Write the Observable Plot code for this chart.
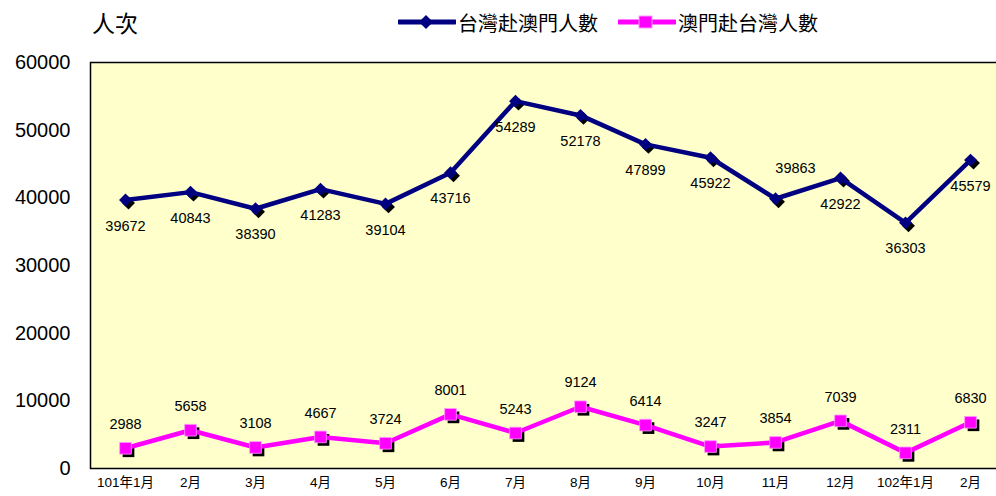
<!DOCTYPE html>
<html>
<head>
<meta charset="utf-8">
<script src="https://cdn.jsdelivr.net/npm/d3@7"></script>
<script src="https://cdn.jsdelivr.net/npm/@observablehq/plot@0.6"></script>
<style>
  html, body { margin: 0; padding: 0; background: #fff; overflow: hidden; }
  #wrap { width: 996px; height: 496px; position: relative; }
  #header { position: relative; height: 50px; font-family: "Noto Sans CJK TC", "Noto Sans CJK SC", sans-serif; }
  #title { position: absolute; left: 92px; top: 7px; font-size: 23px; line-height: 30px; color: #000; }
  .leg { position: absolute; top: 7px; height: 30px; display: flex; align-items: center; font-size: 20px; color: #000; }
  .leg svg { margin-right: 2px; }
  #chart svg { display: block; }
</style>
</head>
<body>
<div id="wrap">
  <div id="header">
    <div id="title">人次</div>
  </div>
  <div id="chart"></div>
</div>
<script>
const months = ["101年1月","2月","3月","4月","5月","6月","7月","8月","9月","10月","11月","12月","102年1月","2月"];
const seriesNames = ["台灣赴澳門人數","澳門赴台灣人數"];
const twToMacau = [39672,40843,38390,41283,39104,43716,54289,52178,47899,45922,39863,42922,36303,45579];
const macauToTw = [2988,5658,3108,4667,3724,8001,5243,9124,6414,3247,3854,7039,2311,6830];
const yTicks = [0,10000,20000,30000,40000,50000,60000];
const colors = ["#000080","#FF00FF"];

const tw = twToMacau.map((v,i)=>({i, value:v}));
const mo = macauToTw.map((v,i)=>({i, value:v}));

// legend
const header = document.getElementById("header");
const legendX = [398, 618];
seriesNames.forEach((name, k) => {
  const d = document.createElement("div");
  d.className = "leg";
  d.style.left = legendX[k] + "px";
  const sym = k === 0
    ? `<polygon points="28,1 35,8 28,15 21,8" fill="${colors[0]}"/>`
    : `<rect x="21" y="2" width="13" height="12" fill="${colors[1]}" stroke="#ff99ff" stroke-width="1"/>`;
  d.innerHTML = `<svg width="58" height="16"><line x1="1" y1="8" x2="57" y2="8" stroke="${colors[k]}" stroke-width="5" stroke-linecap="round"/>${sym}</svg><span>${name}</span>`;
  header.appendChild(d);
});

const numFont = '"Liberation Sans", Arial, sans-serif';

const chart = Plot.plot({
  width: 996,
  height: 446,
  marginTop: 12,
  marginBottom: 28,
  marginLeft: 90,
  marginRight: -8,
  style: { fontFamily: '"Liberation Sans", Arial, sans-serif', background: "transparent", overflow: "visible" },
  x: { type: "point", domain: d3.range(months.length), padding: 0.5, axis: null },
  y: { domain: [0, 60000], axis: null },
  marks: [
    Plot.frame({ fill: "#FFFFCC", stroke: "#000", strokeWidth: 1.5 }),
    Plot.axisY(yTicks, { tickSize: 0, tickPadding: 20, fontSize: 20, tickFormat: d => String(d), fill: "#000", label: null }),
    Plot.axisX(d3.range(months.length), { tickSize: 0, tickPadding: 9, fontSize: 13.5, tickFormat: i => months[i], fontFamily: '"Liberation Sans", "Noto Sans CJK TC", sans-serif', fill: "#000", label: null }),
    // shadows
    Plot.dot(tw, { x: "i", y: "value", symbol: "diamond2", r: 5.8, fill: "#000", dx: 3, dy: 3 }),
    Plot.dot(mo, { x: "i", y: "value", symbol: "square", r: 6.6, fill: "#000", dx: 3, dy: 3 }),
    Plot.line(tw, { x: "i", y: "value", stroke: colors[0], strokeWidth: 4.5 }),
    Plot.line(mo, { x: "i", y: "value", stroke: colors[1], strokeWidth: 4.5 }),
    Plot.dot(tw, { x: "i", y: "value", symbol: "diamond2", r: 5.8, fill: colors[0] }),
    Plot.dot(mo, { x: "i", y: "value", symbol: "square", r: 6.6, fill: colors[1], stroke: "#ff99ff", strokeWidth: 0.8 }),
    Plot.text(tw.filter(d => d.i !== 10), { x: "i", y: "value", text: d => String(d.value), dy: 26, fontSize: 14.5, fontFamily: numFont, fill: "#000" }),
    Plot.text(tw.filter(d => d.i === 10), { x: "i", y: "value", text: d => String(d.value), dx: 20, dy: -30, fontSize: 14.5, fontFamily: numFont, fill: "#000" }),
    Plot.text(mo, { x: "i", y: "value", text: d => String(d.value), dy: -24, fontSize: 14.5, fontFamily: numFont, fill: "#000" })
  ]
});
document.getElementById("chart").appendChild(chart);
</script>
</body>
</html>
